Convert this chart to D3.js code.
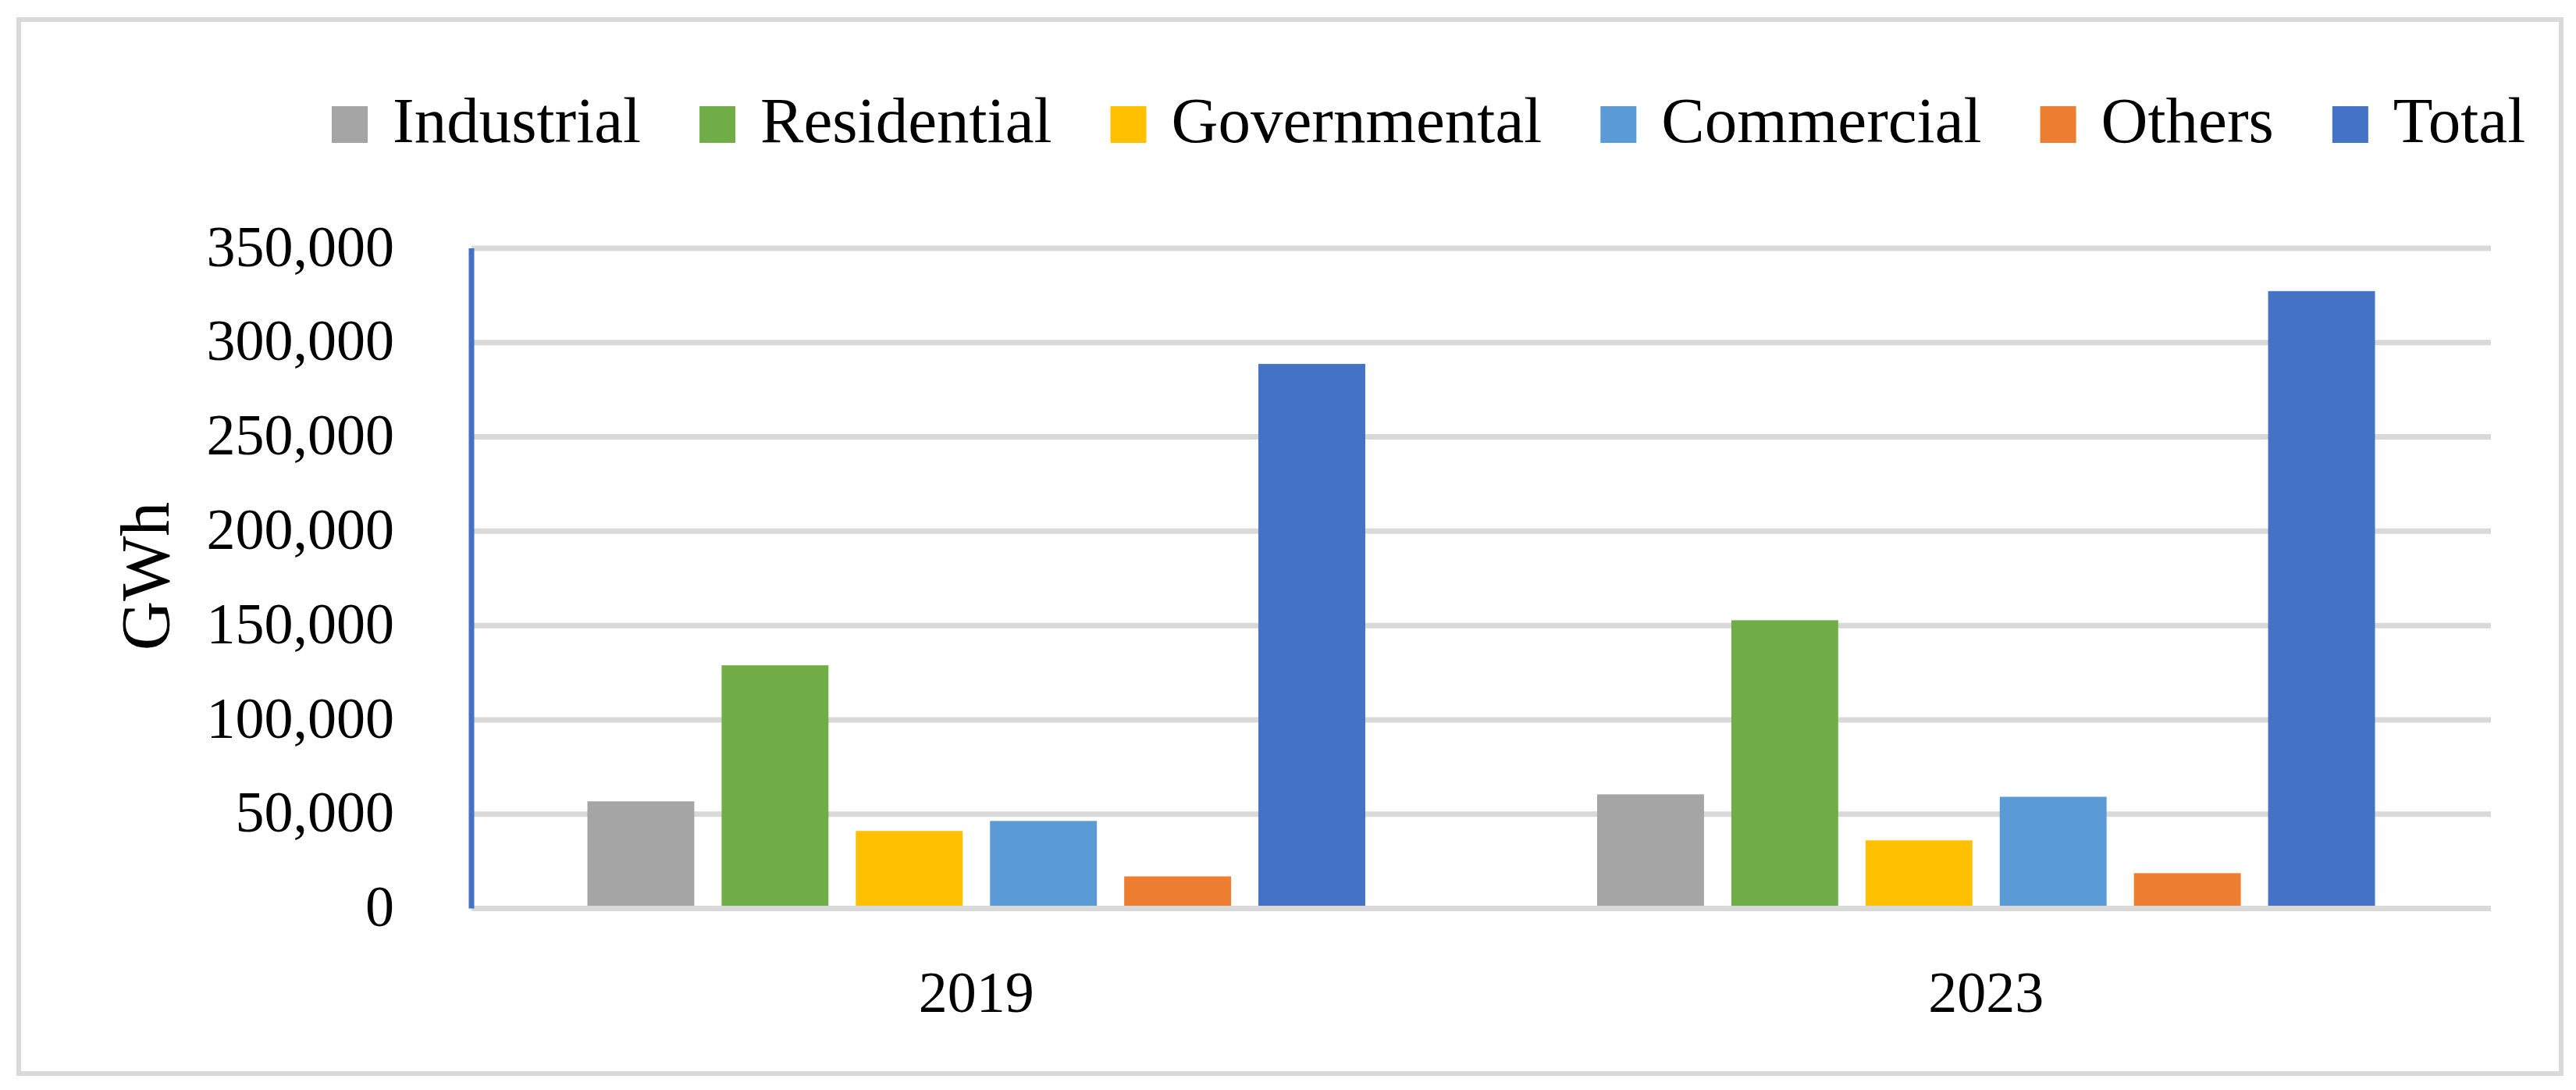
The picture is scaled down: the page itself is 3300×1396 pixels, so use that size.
<!DOCTYPE html>
<html>
<head>
<meta charset="utf-8">
<script src="https://cdn.jsdelivr.net/npm/d3@7"></script>
<style>
  html, body { margin: 0; padding: 0; background: #fff; }
  svg { display: block; }
  text { font-family: "Liberation Serif", "Times New Roman", serif; fill: #000; }
</style>
</head>
<body>
<svg id="chart" width="3300" height="1396"></svg>
<script>
// Data (GWh)
const years = ["2019", "2023"];
const sectors = ["Industrial", "Residential", "Governmental", "Commercial", "Others", "Total"];
const values2019 = [56800, 128900, 41100, 46400, 17000, 288700];
const values2023 = [60500, 152800, 36100, 59200, 18700, 327300];
const yTicks = [0, 50000, 100000, 150000, 200000, 250000, 300000, 350000];

const colors = {
  Industrial: "#a5a5a5",
  Residential: "#70ad47",
  Governmental: "#ffc000",
  Commercial: "#5b9bd5",
  Others: "#ed7d31",
  Total: "#4472c4",
  grid: "#d9d9d9",
  frame: "#d9d9d9",
  axis: "#4472c4"
};

const seriesByYear = {
  "2019": values2019,
  "2023": values2023
};

function main() {
  const svg = d3.select("#chart");

  // plot area
  const left = 604, right = 3191, top = 318, bottom = 1163.5;

  // outer frame
  svg.append("rect")
    .attr("x", 24).attr("y", 25)
    .attr("width", 3257).attr("height", 1350)
    .attr("fill", "#fff")
    .attr("stroke", colors.frame)
    .attr("stroke-width", 6);

  const y = d3.scaleLinear().domain([0, 350000]).range([bottom, top]);

  const x0 = d3.scaleBand().domain(years).range([left, right]).padding(0);

  // Excel-ish: wide gap between groups, small gap between bars
  const groupPad = 148.5;
  const x1 = d3.scaleBand()
    .domain(sectors)
    .range([groupPad, x0.bandwidth() - groupPad])
    .paddingInner(0.2035)
    .paddingOuter(0);

  // gridlines
  svg.append("g")
    .selectAll("line")
    .data(yTicks.filter(d => d > 0))
    .enter().append("line")
    .attr("x1", left)
    .attr("x2", right)
    .attr("y1", d => y(d))
    .attr("y2", d => y(d))
    .attr("stroke", colors.grid)
    .attr("stroke-width", 7);

  // bars
  const groups = svg.append("g")
    .selectAll("g")
    .data(years)
    .enter().append("g")
    .attr("transform", d => `translate(${x0(d)},0)`);

  groups.selectAll("rect")
    .data(yr => sectors.map((s, i) => ({ sector: s, value: seriesByYear[yr][i] })))
    .enter().append("rect")
    .attr("x", d => x1(d.sector))
    .attr("y", d => y(d.value))
    .attr("width", x1.bandwidth())
    .attr("height", d => y(0) - y(d.value))
    .attr("fill", d => colors[d.sector]);

  // x axis (gray baseline + year labels)
  const xAxis = svg.append("g")
    .attr("transform", `translate(0,${y(0)})`)
    .call(d3.axisBottom(x0).tickSize(0).tickPadding(0));
  xAxis.select(".domain")
    .attr("d", `M${left},0H${right}`)
    .attr("stroke", colors.grid)
    .attr("stroke-width", 7);
  xAxis.selectAll(".tick text")
    .attr("y", 132)
    .attr("dy", 0)
    .style("font-family", "Liberation Serif")
    .style("font-size", "74px")
    .attr("fill", "#000");

  // y axis (blue line + labels)
  const yAxis = svg.append("g")
    .attr("transform", `translate(${left},0)`)
    .call(d3.axisLeft(y).tickValues(yTicks).tickSize(0).tickPadding(99).tickFormat(d3.format(",")));
  yAxis.select(".domain")
    .attr("d", `M0,${top}V${bottom}`)
    .attr("stroke", colors.axis)
    .attr("stroke-width", 7);
  yAxis.selectAll(".tick text")
    .attr("dy", "0.3em")
    .style("font-family", "Liberation Serif")
    .style("font-size", "74px")
    .attr("fill", "#000");

  // y axis title
  svg.append("text")
    .attr("transform", "translate(216,738) rotate(-90)")
    .attr("text-anchor", "middle")
    .style("font-size", "88px")
    .text("GWh");

  // legend
  const legend = svg.append("g").attr("transform", "translate(425,0)");
  let cursor = 0;
  sectors.forEach(s => {
    const item = legend.append("g").attr("transform", `translate(${cursor},0)`);
    item.append("rect")
      .attr("x", 0).attr("y", 136)
      .attr("width", 46).attr("height", 47)
      .attr("fill", colors[s]);
    const label = item.append("text")
      .attr("x", 78)
      .attr("y", 182)
      .style("font-size", "83px")
      .text(s);
    cursor += 78 + label.node().getComputedTextLength() + 75;
  });
}

main();
</script>
</body>
</html>
